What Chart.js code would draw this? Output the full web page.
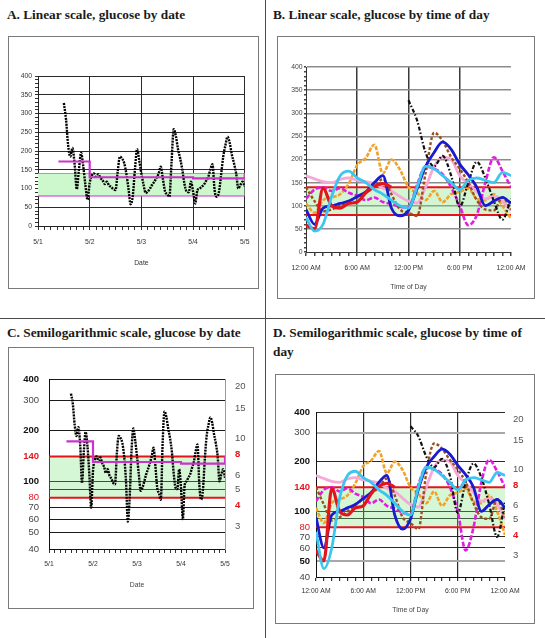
<!DOCTYPE html>
<html>
<head>
<meta charset="utf-8">
<title>Glucose: linear and semilogarithmic scales</title>
<script src="https://cdn.jsdelivr.net/npm/chart.js@4.4.1/dist/chart.umd.min.js"></script>
<style>
  html, body { margin: 0; padding: 0; background: #fff; }
  body { position: relative; width: 545px; height: 638px; overflow: hidden; }
  .title { position: absolute; font: bold 13.3px "Liberation Serif", "Times New Roman", serif; line-height: 19px; color: #1a1a1a; white-space: nowrap; }
  .frame { position: absolute; border: 1px solid #7a7a7a; box-sizing: border-box; background: #fff; }
  .frame canvas { position: absolute; left: 0; top: 0; }
  .rule { position: absolute; background: #4a4a4a; }
</style>
</head>
<body>
<div class="rule" style="left:265px;top:0;width:1px;height:638px"></div>
<div class="rule" style="left:0;top:318px;width:545px;height:1px"></div>

<div class="title" style="left:7px;top:5px">A. Linear scale, glucose by date</div>
<div class="title" style="left:273px;top:5px">B. Linear scale, glucose by time of day</div>
<div class="title" style="left:7px;top:323px">C. Semilogarithmic scale, glucose by date</div>
<div class="title" style="left:273px;top:323px">D. Semilogarithmic scale, glucose by time of<br>day</div>

<div class="frame" style="left:8px;top:36px;width:251px;height:253px"><canvas id="chartA" width="249" height="251"></canvas></div>
<div class="frame" style="left:277px;top:36px;width:258px;height:263px"><canvas id="chartB" width="256" height="261"></canvas></div>
<div class="frame" style="left:8px;top:347px;width:246px;height:262px"><canvas id="chartC" width="244" height="260"></canvas></div>
<div class="frame" style="left:275px;top:374px;width:260px;height:250px"><canvas id="chartD" width="258" height="248"></canvas></div>

<script>
// axis labels
const dateLabels = ['5/1', '5/2', '5/3', '5/4', '5/5'];
const timeLabels = ['12:00 AM', '6:00 AM', '12:00 PM', '6:00 PM', '12:00 AM'];
const linearTicks = [0, 50, 100, 150, 200, 250, 300, 350, 400];
const logTicks = [40, 50, 60, 70, 80, 90, 100, 140, 200, 300, 400];
const logLabels = ['40', '50', '60', '70', '80', '', '100', '140', '200', '300', '400'];
const mmolTicks = [3, 4, 5, 6, 8, 10, 15, 20];

// target range (mg/dL) and the stepped mean line
const rangeLow = 80;
const rangeHigh = 140;
const targetHours = [9.5, 24, 72, 96];
const targetLevels = [172, 130, 127, 140];

// glucose mg/dL, one reading per hour from 5/1 00:00 to 5/5 00:00
const glucose = [
  null, null, null, null, null, null, null, null, null, null, null, null,
  328, 285, 215, 185, 208, 165, 98, 150, 195, 160, 110, 70,
  115, 135, 140, 132, 138, 128, 122, 112, 118, 108, 104, 98,
  96, 145, 185, 180, 168, 140, 100, 58, 80, 150, 205, 175,
  140, 110, 88, 92, 100, 110, 118, 128, 140, 158, 125, 92,
  85, 78, 170, 258, 240, 205, 180, 150, 112, 92, 90, 118,
  92, 60, 95, 100, 105, 110, 120, 130, 150, 165, 95, 78,
  90, 136, 185, 215, 238, 222, 190, 167, 140, 100, 110, 118,
  105
];

// other days, hourly 12:00 AM .. 12:00 AM
const dayOrange = [105, 85, 112, 118, 125, 148, 188, 203, 232, 170, 200, 178, 140, 128, 112, 132, 108, 125, 130, 137, 115, 112, 125, 100, 72];
const dayCyan = [75, 45, 60, 120, 165, 175, 160, 150, 135, 125, 112, 100, 95, 140, 185, 180, 165, 150, 135, 155, 160, 155, 150, 172, 165];
const dayPink = [165, 158, 152, 150, 157, 160, 155, 152, 148, 138, 132, 120, 110, 106, 140, 185, 205, 200, 165, 148, 130, 115, 120, 110, 90];
const dayRed = [58, 50, 138, 100, 95, 105, 108, 128, 142, 148, 140, null, null, null, null, null, null, null, null, null, null, null, null, null, null];

const SMALL = '"Liberation Sans Narrow", "Arial Narrow", "Liberation Sans", Arial, sans-serif';
const ARIAL = '"Liberation Sans", Arial, sans-serif';
const RED = '#e3141b';
const NONE = 'rgba(0,0,0,0)';

function series(values, start) {
  return values.map((v, i) => ({ x: start + i, y: v }));
}
function level(value, xMax) {
  return [{ x: 0, y: value }, { x: xMax, y: value }];
}
function steps(from, to, step) {
  const out = [];
  for (let v = from; v <= to; v += step) out.push({ value: v });
  return out;
}
function setTicks(list) {
  return scale => { scale.ticks = list.map(t => (typeof t === 'number' ? { value: t } : t)); };
}
function baseOptions(padding) {
  return {
    responsive: false,
    animation: false,
    events: [],
    layout: { padding: padding },
    elements: { point: { radius: 0 }, line: { tension: 0 } },
    plugins: { legend: { display: false }, tooltip: { enabled: false } }
  };
}
const tickFont = { family: SMALL, size: 6.8 };

// day-by-day series for the time-of-day charts (index 0 is drawn on top)
const dayValues = [
  dayCyan,
  dayRed,
  glucose.slice(72, 97),
  glucose.slice(0, 25),
  glucose.slice(48, 73),
  glucose.slice(24, 49),
  dayPink,
  dayOrange
];
const dayStyles = [
  { color: '#3cc6ef', dash: [], width: 2.8 },
  { color: RED, dash: [], width: 3.2 },
  { color: '#1a1ad0', dash: [], width: 2.8 },
  { color: '#111111', dash: [4, 2, 1.5, 2], width: 2.2 },
  { color: '#9a4f1f', dash: [3, 2], width: 2.4 },
  { color: '#e01ee0', dash: [5, 2], width: 2.6 },
  { color: '#f6a8d6', dash: [], width: 2.8 },
  { color: '#f2a12a', dash: [4, 1.5], width: 2.6 }
];
function dayDatasets() {
  return dayValues.map((vals, i) => ({
    data: series(vals, 0),
    borderColor: dayStyles[i].color,
    borderDash: dayStyles[i].dash,
    borderWidth: dayStyles[i].width,
    cubicInterpolationMode: 'monotone',
    order: 1
  }));
}
function limitDatasets(xMax, fill) {
  return [
    { data: level(rangeHigh, xMax), borderColor: RED, borderWidth: 2, order: 3 },
    { data: level(rangeLow, xMax), borderColor: RED, borderWidth: 2, order: 3 },
    { data: level(rangeHigh, xMax), fill: { value: rangeLow }, backgroundColor: fill, borderWidth: 0, order: 5 }
  ];
}
function targetDataset() {
  return {
    data: targetHours.map((h, i) => ({ x: h, y: targetLevels[i] })),
    stepped: 'before', borderColor: '#cc33cc', borderWidth: 2.2, order: 0
  };
}
function glucoseDataset() {
  return {
    data: series(glucose, 0), borderColor: '#000', borderWidth: 2.4, borderDash: [2, 1],
    cubicInterpolationMode: 'monotone', order: 1
  };
}

// ---------- A: linear, by date ----------
const optA = baseOptions({ left: 0, top: 39, right: 11, bottom: 0 });
optA.scales = {
  x: {
    type: 'linear', min: 0, max: 96,
    afterBuildTicks: setTicks(steps(0, 96, 3)),
    afterFit: s => { s.height = 62; },
    ticks: { autoSkip: false, maxRotation: 0, padding: 8.5, color: '#333', font: tickFont,
      callback: v => (v % 24 === 0 ? dateLabels[v / 24] : '') },
    grid: { color: c => (c.tick && c.tick.value % 24 === 0 && c.tick.value > 0 ? '#2a2a2a' : NONE),
      tickColor: '#333', tickLength: 4 },
    border: { color: '#222' },
    title: { display: true, text: 'Date', color: '#333', font: tickFont, padding: { top: 0, bottom: 20.5 } }
  },
  y: {
    type: 'linear', min: 0, max: 400,
    afterBuildTicks: setTicks(steps(0, 400, 10)),
    afterFit: s => { s.width = 29; },
    ticks: { autoSkip: false, padding: 3, color: '#333', font: tickFont,
      callback: v => (linearTicks.includes(v) ? String(v) : '') },
    grid: { color: c => (c.tick && linearTicks.includes(c.tick.value) && c.tick.value > 0 ? '#2a2a2a' : NONE),
      tickColor: '#333', tickLength: 3 },
    border: { color: '#222' }
  }
};
new Chart(document.getElementById('chartA'), {
  type: 'line',
  data: {
    datasets: [
      targetDataset(),
      glucoseDataset(),
      { data: level(rangeLow, 96), borderColor: '#cc33cc', borderWidth: 1.2, order: 3 },
      { data: level(rangeHigh, 96), fill: { value: rangeLow }, backgroundColor: '#cdf7cd', borderColor: '#a0a0a0', borderWidth: 1, order: 5 }
    ]
  },
  options: optA
});

// ---------- B: linear, by time of day ----------
const optB = baseOptions({ left: 0, top: 30, right: 21, bottom: 0 });
optB.scales = {
  x: {
    type: 'linear', min: 0, max: 24,
    afterBuildTicks: setTicks(steps(0, 24, 1)),
    afterFit: s => { s.height = 46; },
    ticks: { autoSkip: false, maxRotation: 0, padding: 8.5, color: '#333', font: tickFont,
      callback: v => (v % 6 === 0 ? timeLabels[v / 6] : '') },
    grid: { color: c => (c.tick && c.tick.value % 6 === 0 && c.tick.value > 0 && c.tick.value < 24 ? '#3a3a3a' : NONE),
      lineWidth: 1.5, tickColor: '#444', tickLength: 4 },
    border: { color: '#333' },
    title: { display: true, text: 'Time of Day', color: '#444', font: tickFont, padding: { top: 0, bottom: 6.5 } }
  },
  y: {
    type: 'linear', min: 0, max: 400,
    afterBuildTicks: setTicks(steps(0, 400, 10)),
    afterFit: s => { s.width = 28; },
    ticks: { autoSkip: false, padding: 1.5, color: '#444', font: tickFont,
      callback: v => (linearTicks.includes(v) ? String(v) : '') },
    grid: { color: c => (c.tick && linearTicks.includes(c.tick.value) && c.tick.value > 0 ? '#8c8c8c' : NONE),
      lineWidth: 1.5, tickColor: '#444', tickLength: 2 },
    border: { color: '#333' }
  }
};
new Chart(document.getElementById('chartB'), {
  type: 'line',
  data: { datasets: dayDatasets().concat(limitDatasets(24, 'rgba(120,225,120,0.32)')) },
  options: optB
});

// ---------- shared log axes ----------
const boldC = [400, 200, 140, 100];
function logY(width, padding, bold) {
  return {
    type: 'logarithmic', min: 40, max: 400,
    afterBuildTicks: setTicks(logTicks),
    afterFit: s => { s.width = width; },
    ticks: {
      autoSkip: false, padding: padding,
      callback: v => logLabels[logTicks.indexOf(v)],
      color: c => (c.tick.value === rangeLow || c.tick.value === rangeHigh ? RED : (bold.includes(c.tick.value) ? '#111' : '#444')),
      font: c => ({ family: ARIAL, size: 9.5, weight: bold.includes(c.tick.value) ? 'bold' : 'normal' })
    },
    border: { color: '#111' }
  };
}
function mmolY(width, padding, borderColor) {
  return {
    type: 'logarithmic', position: 'right', min: 40 / 18, max: 400 / 18,
    afterBuildTicks: setTicks(mmolTicks),
    afterFit: s => { s.width = width; },
    ticks: {
      autoSkip: false, padding: padding,
      callback: v => String(v),
      color: c => (c.tick.value === 8 || c.tick.value === 4 ? RED : '#555'),
      font: c => ({ family: ARIAL, size: 9.5, weight: c.tick.value === 8 || c.tick.value === 4 ? 'bold' : 'normal' })
    },
    grid: { drawOnChartArea: false, drawTicks: false },
    border: borderColor ? { color: borderColor } : { display: false }
  };
}

// ---------- C: semilog, by date ----------
const optC = baseOptions({ left: 0, top: 31, right: 0, bottom: 0 });
const yC = logY(40, 10, boldC);
yC.grid = { drawTicks: false, color: c => ([40, rangeLow, rangeHigh].includes(c.tick.value) ? NONE : '#1a1a1a') };
optC.scales = {
  x: {
    type: 'linear', min: 0, max: 96,
    afterBuildTicks: setTicks(steps(0, 96, 3)),
    afterFit: s => { s.height = 59; },
    ticks: { autoSkip: false, maxRotation: 0, padding: 7.5, color: '#333', font: tickFont,
      callback: v => (v % 24 === 0 ? dateLabels[v / 24] : '') },
    grid: { color: NONE, tickColor: '#333', tickLength: 4 },
    border: { color: '#111' },
    title: { display: true, text: 'Date', color: '#444', font: tickFont, padding: { top: 0, bottom: 18.5 } }
  },
  y: yC,
  y2: mmolY(28, 10, '#9a9a9a')
};
new Chart(document.getElementById('chartC'), {
  type: 'line',
  data: { datasets: [targetDataset(), glucoseDataset()].concat(limitDatasets(96, 'rgba(120,230,120,0.3)')) },
  options: optC
});

// ---------- D: semilog, by time of day ----------
const optD = baseOptions({ left: 0, top: 37, right: 0, bottom: 0 });
const yD = logY(40, 6, boldC.concat([50]));
yD.grid = {
  drawTicks: false,
  color: c => {
    const v = c.tick.value;
    if ([40, rangeLow, rangeHigh].includes(v)) return NONE;
    return v === 300 || v === 50 ? '#a8a8a8' : '#2a2a2a';
  },
  lineWidth: c => (c.tick.value === 300 || c.tick.value === 50 ? 2 : 1)
};
optD.scales = {
  x: {
    type: 'linear', min: 0, max: 24,
    afterBuildTicks: setTicks(steps(0, 24, 1)),
    afterFit: s => { s.height = 46; },
    ticks: { autoSkip: false, maxRotation: 0, padding: 6.5, color: '#333', font: tickFont,
      callback: v => (v % 6 === 0 ? timeLabels[v / 6] : '') },
    grid: { color: c => (c.tick && c.tick.value % 6 === 0 && c.tick.value > 0 && c.tick.value < 24 ? '#2a2a2a' : NONE),
      lineWidth: 1.2, tickColor: '#333', tickLength: 4 },
    border: { color: '#111' },
    title: { display: true, text: 'Time of Day', color: '#444', font: tickFont, padding: { top: 0, bottom: 8.5 } }
  },
  y: yD,
  y2: mmolY(29, 8, null)
};
new Chart(document.getElementById('chartD'), {
  type: 'line',
  data: { datasets: dayDatasets().concat(limitDatasets(24, 'rgba(120,230,120,0.3)')) },
  options: optD
});
</script>
</body>
</html>
